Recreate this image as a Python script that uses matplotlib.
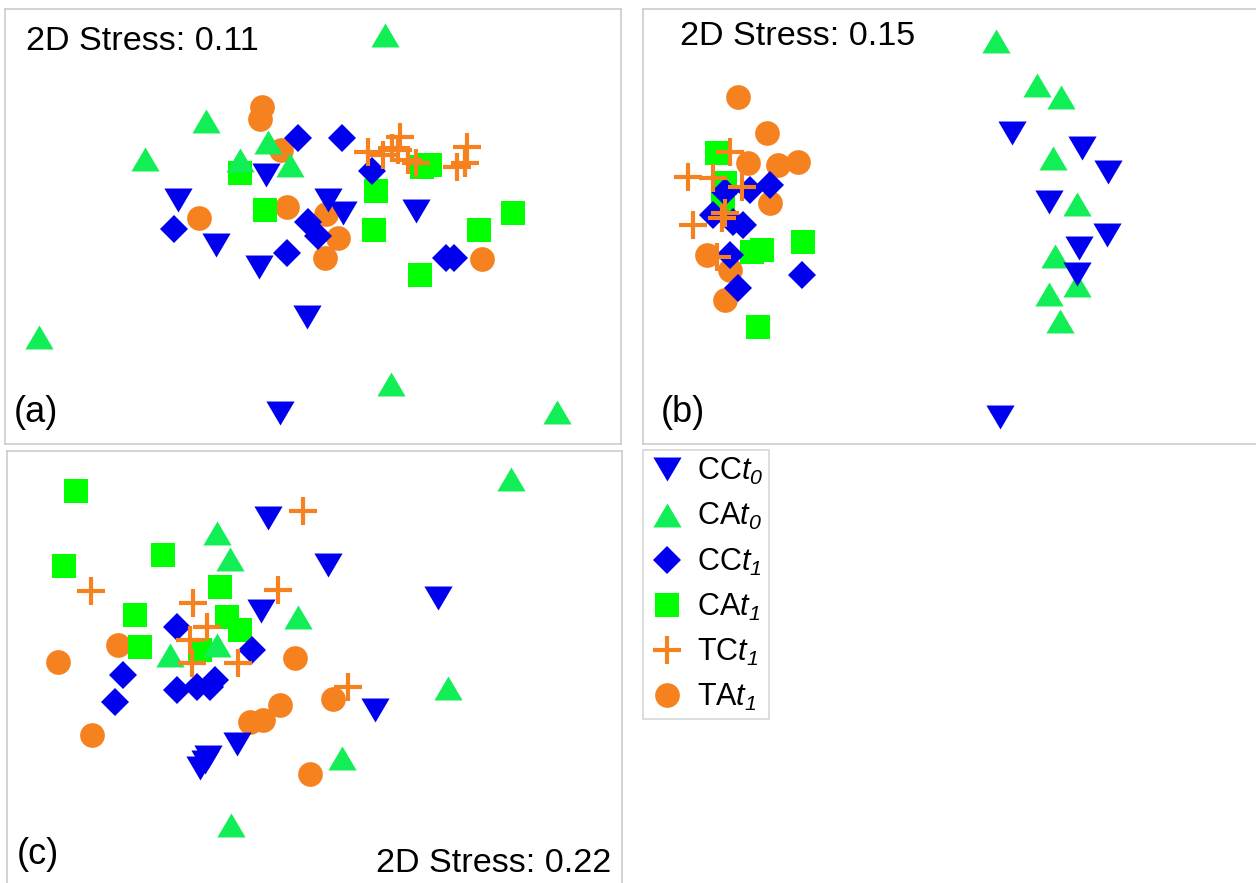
import matplotlib.pyplot as plt
from matplotlib import font_manager

# nMDS ordinations of the four treatments at t0 / t1 (three panels)
# coordinates are in panel units: x from the left edge, y from the bottom edge

PANEL_W = [616, 616, 615]
PANEL_H = [435, 435, 433]
STRESS = ['2D Stress: 0.11', '2D Stress: 0.15', '2D Stress: 0.22']
TAGS = ['(a)', '(b)', '(c)']

# panel (a)
a_cc_t0 = [(173, 244), (261, 269), (211, 199), (254, 177), (302, 127), (275, 31),
           (323, 244), (338, 231), (411, 233)]
a_ca_t0 = [(380, 409), (201, 323), (140, 285), (235, 284), (263, 302), (285, 279),
           (34, 107), (386, 60), (552, 32)]
a_cc_t1 = [(293, 306), (337, 306), (367, 273), (169, 215), (303, 222), (313, 208),
           (282, 191), (441, 186), (449, 186)]
a_ca_t1 = [(235, 271), (260, 234), (371, 253), (417, 277), (425, 279), (508, 231),
           (369, 214), (474, 214), (415, 169)]
a_tc_t1 = [(363, 292), (378, 289), (387, 296), (395, 307), (393, 294), (403, 284),
           (411, 281), (452, 277), (462, 297), (460, 281)]
a_ta_t1 = [(257, 337), (255, 325), (276, 294), (194, 226), (282, 237), (321, 230),
           (333, 206), (320, 186), (477, 185)]

# panel (b)
b_cc_t0 = [(369, 311), (439, 296), (465, 272), (406, 242), (464, 209), (436, 196),
           (434, 170), (357, 27)]
b_ca_t0 = [(353, 403), (394, 359), (418, 347), (410, 286), (434, 240), (412, 188),
           (434, 159), (406, 150), (417, 123)]
b_cc_t1 = [(107, 254), (127, 259), (82, 252), (70, 229), (90, 222), (100, 219),
           (87, 189), (159, 169), (95, 156)]
b_ca_t1 = [(74, 291), (82, 261), (80, 244), (109, 192), (119, 194), (160, 202),
           (115, 117)]
b_tc_t1 = [(87, 292), (45, 267), (70, 266), (99, 257), (82, 231), (79, 226),
           (50, 219), (74, 187)]
b_ta_t1 = [(95, 347), (124, 311), (105, 281), (135, 279), (155, 282), (127, 241),
           (64, 189), (87, 174), (82, 144)]

# panel (c)
c_cc_t0 = [(261, 366), (321, 319), (431, 286), (254, 273), (368, 174), (230, 140),
           (201, 127), (193, 116), (198, 122)]
c_ca_t0 = [(504, 405), (210, 351), (223, 325), (291, 267), (163, 229), (210, 239),
           (441, 196), (335, 126), (224, 59)]
c_cc_t1 = [(170, 257), (245, 234), (116, 209), (170, 194), (190, 197), (203, 197),
           (208, 204), (108, 182)]
c_ca_t1 = [(69, 393), (57, 318), (156, 329), (213, 297), (128, 269), (220, 267),
           (233, 254), (133, 237), (193, 234)]
c_tc_t1 = [(84, 293), (296, 373), (271, 294), (186, 281), (200, 257), (183, 244),
           (185, 221), (231, 221), (341, 197)]
c_ta_t1 = [(111, 239), (51, 222), (288, 226), (85, 149), (273, 179), (243, 162),
           (256, 164), (326, 185), (303, 110)]

panels = [
    [a_cc_t0, a_ca_t0, a_cc_t1, a_ca_t1, a_tc_t1, a_ta_t1],
    [b_cc_t0, b_ca_t0, b_cc_t1, b_ca_t1, b_tc_t1, b_ta_t1],
    [c_cc_t0, c_ca_t0, c_cc_t1, c_ca_t1, c_tc_t1, c_ta_t1],
]

# group name upright, time point in italics
labels = [r'CC$\mathrm{t}_0$', r'CA$\mathrm{t}_0$', r'CC$\mathrm{t}_1$',
          r'CA$\mathrm{t}_1$', r'TC$\mathrm{t}_1$', r'TA$\mathrm{t}_1$']

BLUE = '#0000EE'
GREEN_TRI = '#12EE55'
GREEN_SQ = '#00FF00'
ORANGE = '#F5821F'

TRI_UP = [(-1, -0.85), (1, -0.85), (0, 0.85)]
TRI_DOWN = [(-1, 0.85), (1, 0.85), (0, -0.85)]

styles = [
    dict(marker=TRI_DOWN, color=BLUE, ms=20.3, mew=0),
    dict(marker=TRI_UP, color=GREEN_TRI, ms=20.3, mew=0),
    dict(marker='D', color=BLUE, ms=14.3, mew=0),
    dict(marker='s', color=GREEN_SQ, ms=17.2, mew=0),
    dict(marker='+', color=ORANGE, ms=20.5, mew=3),
    dict(marker='o', color=ORANGE, ms=17.8, mew=0),
]
# drawing order, bottom to top
ORDER = [5, 3, 1, 0, 2, 4]

plt.rcParams['font.family'] = ['Liberation Sans', 'DejaVu Sans']
plt.rcParams['mathtext.fontset'] = 'custom'
plt.rcParams['mathtext.rm'] = 'Liberation Sans:italic'
plt.rcParams['mathtext.it'] = 'Liberation Sans:italic'

names = {f.name for f in font_manager.fontManager.ttflist}
narrow = 'Liberation Sans Narrow' in names
TAG_FONT = 'Liberation Sans Narrow' if narrow else 'Liberation Sans'
TAG_SIZE = 29 if narrow else 26

FIG_W, FIG_H = 1256, 883
fig = plt.figure(figsize=(FIG_W / 100, FIG_H / 100), dpi=100)

# panel boxes in pixels: left, top
boxes = [(5, 9), (643, 9), (7, 451)]
stress_pos = [(0.034, 0.906, 'left'), (0.060, 0.917, 'left'), (0.982, 0.028, 'right')]
tag_pos = [(0.0146, 0.05), (0.029, 0.05), (0.016, 0.046)]

handles = [None] * 6
for p, (left, top) in enumerate(boxes):
    w, h = PANEL_W[p], PANEL_H[p]
    ax = fig.add_axes([left / FIG_W, 1 - (top + h) / FIG_H, w / FIG_W, h / FIG_H])
    for k in ORDER:
        pts = panels[p][k]
        xs = [q[0] for q in pts]
        ys = [q[1] for q in pts]
        st = styles[k]
        ln, = ax.plot(xs, ys, linestyle='none', marker=st['marker'], ms=st['ms'],
                      mew=st['mew'], color=st['color'], mec=st['color'])
        handles[k] = ln
    ax.set_xlim(0, w)
    ax.set_ylim(0, h)
    ax.set_xticks([])
    ax.set_yticks([])
    for sp in ax.spines.values():
        sp.set_color('#C8C8C8')
        sp.set_linewidth(1.1)
    sx, sy, ha = stress_pos[p]
    ax.text(sx, sy, STRESS[p], transform=ax.transAxes, fontsize=24.6,
            ha=ha, va='baseline')
    tx, ty = tag_pos[p]
    ax.text(tx, ty, TAGS[p], transform=ax.transAxes, fontsize=TAG_SIZE,
            family=TAG_FONT, ha='left', va='baseline')

leg = fig.legend(handles, labels, loc='upper left',
                 bbox_to_anchor=(643 / FIG_W, 1 - 450 / FIG_H),
                 fontsize=22, frameon=True, fancybox=False, numpoints=1,
                 edgecolor='#C8C8C8', borderpad=0.2, labelspacing=0.46,
                 handlelength=1.2, handletextpad=0.36, borderaxespad=0)
leg.get_frame().set_linewidth(1.1)

fig.savefig('out.png', dpi=100, facecolor='white')
